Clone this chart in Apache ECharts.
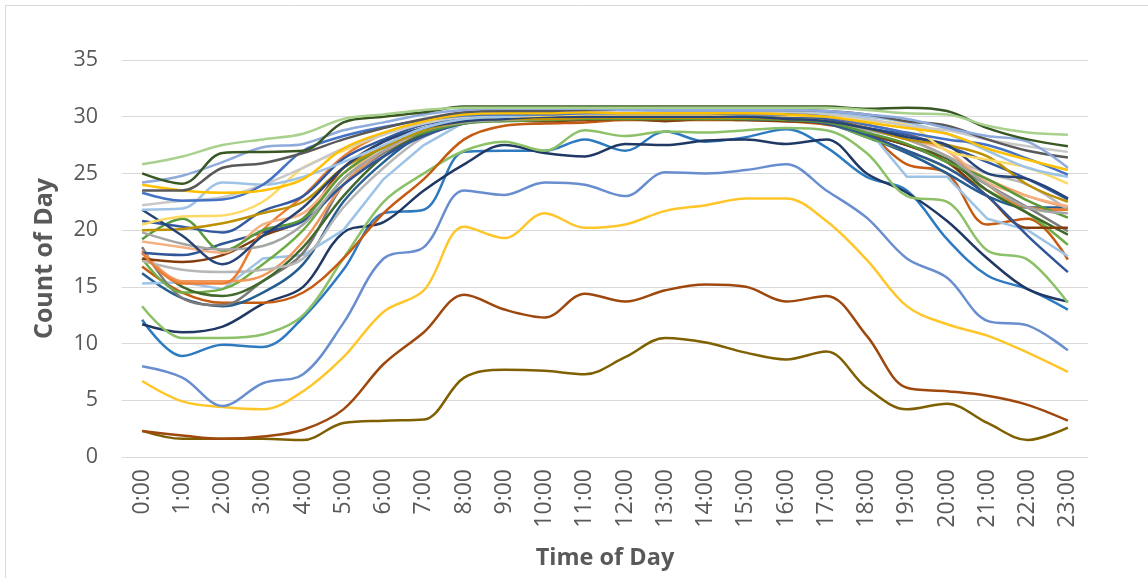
<!DOCTYPE html>
<html>
<head>
<meta charset="utf-8">
<title>Count of Day by Time of Day</title>
<script src="https://cdn.jsdelivr.net/npm/echarts@6/dist/echarts.min.js"></script>
<style>
  html, body { margin: 0; padding: 0; background: #ffffff; }
  #chart { width: 1148px; height: 578px; }
</style>
</head>
<body>
<div id="chart"></div>
<script>
// Hour-of-day categories
const hours = ['0:00','1:00','2:00','3:00','4:00','5:00','6:00','7:00','8:00','9:00','10:00','11:00',
               '12:00','13:00','14:00','15:00','16:00','17:00','18:00','19:00','20:00','21:00','22:00','23:00'];

// Y axis range
const yMin = 0;
const yMax = 35;
const yStep = 5;

// One series per day: count at each hour
const dayA = [25.8,26.5,27.5,28.0,28.5,29.8,30.2,30.6,30.8,30.8,30.8,30.8,30.8,30.8,30.8,30.8,30.8,30.8,30.6,30.3,30.2,29.2,28.6,28.4];
const dayB = [25.0,24.1,26.8,26.9,27.0,29.5,30.0,30.4,30.9,30.9,30.9,30.9,30.9,30.9,30.9,30.9,30.9,30.9,30.7,30.8,30.5,29.0,28.0,27.4];
const dayC = [24.2,24.8,26.0,27.3,27.6,28.8,29.5,30.2,30.6,30.7,30.7,30.7,30.6,30.6,30.6,30.6,30.6,30.5,30.2,29.8,29.0,28.3,27.8,25.5];
const dayD = [23.5,23.5,25.5,25.9,26.8,28.0,29.0,29.8,30.4,30.5,30.5,30.6,30.6,30.6,30.6,30.6,30.6,30.5,30.2,29.6,29.2,28.0,27.0,26.4];
const dayE = [24.0,23.5,23.3,23.5,24.5,27.2,28.6,29.6,30.2,30.3,30.3,30.4,30.3,30.3,30.3,30.3,30.2,30.0,29.5,29.0,28.5,27.2,26.2,25.3];
const dayF = [23.3,22.6,22.7,24.0,27.0,28.3,29.1,29.7,30.1,30.2,30.2,30.3,30.3,30.3,30.3,30.2,30.2,30.0,29.3,28.6,28.0,27.5,26.3,24.9];
const dayG = [22.2,22.6,22.9,24.0,25.5,27.2,28.4,29.4,30.0,30.2,30.3,30.3,30.3,30.3,30.3,30.3,30.3,30.2,29.8,29.2,28.8,28.0,27.4,26.9];
const dayH = [21.8,21.9,24.2,24.0,24.7,26.0,27.5,29.0,29.8,30.0,30.2,30.3,30.3,30.4,30.4,30.4,30.4,30.3,30.0,29.5,28.5,27.0,25.5,24.7];
const dayI = [20.5,21.2,21.3,22.5,25.5,27.0,28.5,29.5,30.0,30.0,30.1,30.2,30.2,30.2,30.2,30.2,30.1,30.0,29.6,29.3,27.0,26.2,25.5,24.1];
const dayJ = [21.8,19.5,17.0,19.5,22.0,25.5,27.8,29.0,29.6,29.8,30.0,30.0,30.0,30.0,30.0,30.0,29.8,29.6,29.0,28.2,27.5,25.0,24.5,22.8];
const dayK = [20.0,20.1,20.6,21.5,22.5,25.5,27.3,28.8,29.6,29.8,29.8,29.9,29.9,29.9,29.9,29.9,29.8,29.6,29.0,28.0,27.5,26.5,24.0,22.5];
const dayL = [20.8,20.3,19.8,21.7,23.0,26.3,28.0,29.3,29.8,30.0,30.1,30.2,30.2,30.2,30.1,30.1,30.0,29.8,29.0,28.4,27.4,26.0,24.5,22.7];
const dayM = [19.8,18.8,18.3,18.6,20.5,24.5,27.0,28.8,29.5,29.7,29.8,29.9,29.9,30.0,30.0,30.0,29.9,29.7,28.9,28.0,26.5,24.0,22.0,21.5];
const dayN = [19.2,21.0,18.2,20.0,21.0,25.0,27.3,28.6,29.4,29.6,29.7,29.8,29.8,29.8,29.8,29.8,29.7,29.5,28.6,27.6,26.0,24.5,22.6,21.1];
const dayO = [19.0,18.5,18.0,20.5,21.5,25.0,27.0,28.7,29.5,29.8,29.9,30.0,30.0,30.0,30.0,30.0,29.9,29.7,29.0,28.0,27.0,24.2,23.0,22.1];
const dayP = [18.0,15.3,15.3,20.0,23.0,26.5,28.5,29.5,30.0,30.1,30.1,30.2,30.2,30.1,30.1,30.1,30.0,29.8,29.3,28.5,27.0,24.0,22.0,21.8];
const dayQ = [18.0,17.8,18.8,19.8,20.8,24.0,26.5,28.3,29.4,29.7,29.8,29.9,29.9,29.9,29.9,29.8,29.7,29.4,28.4,27.0,25.5,23.0,19.5,16.3];
const dayR = [17.5,17.2,17.8,19.5,21.0,25.5,27.8,29.0,29.7,29.7,29.6,29.7,29.8,29.6,29.8,29.7,29.6,29.4,28.5,27.5,26.0,23.0,20.2,20.2];
const dayS = [17.3,16.5,16.3,16.5,17.5,22.0,25.5,28.2,29.4,29.7,29.8,29.9,29.9,29.9,29.9,29.8,29.8,29.5,28.8,28.0,26.5,25.0,24.0,21.8];
const dayT = [15.3,15.4,14.8,17.5,17.8,20.0,24.5,27.5,29.5,29.7,29.8,30.0,30.0,30.0,30.0,29.9,29.8,29.5,29.0,24.7,24.7,21.0,20.0,17.7];
const dayU = [16.8,14.5,13.6,13.6,14.5,17.5,21.5,24.5,28.0,29.2,29.4,29.5,29.7,29.7,29.7,29.7,29.6,29.3,28.5,25.8,25.0,20.5,21.0,17.4];
const dayV = [18.0,15.0,14.2,15.5,18.5,23.0,26.5,28.5,29.5,29.8,29.9,30.0,30.0,30.0,30.0,30.0,29.9,29.6,28.5,27.5,26.3,23.5,21.5,19.6];
const dayW = [17.5,14.5,14.8,17.0,20.0,24.5,27.0,28.8,29.6,29.8,29.9,30.0,30.0,30.0,30.0,29.9,29.8,29.5,28.2,27.0,25.5,23.5,21.5,18.7];
const dayX = [18.5,14.0,13.4,15.5,18.0,24.0,26.8,28.7,29.5,29.7,29.8,29.8,29.9,29.9,29.9,29.8,29.7,29.4,28.4,27.5,26.0,24.0,22.0,19.9];
const dayY = [16.2,14.0,13.3,14.5,17.0,22.5,26.0,28.5,29.5,29.7,29.8,29.9,29.9,29.9,29.9,29.8,29.7,29.4,28.2,26.8,25.0,23.0,22.0,22.0];
const dayZ = [18.2,15.5,15.5,16.0,19.0,24.0,27.0,28.8,29.7,29.9,30.0,30.0,30.0,30.0,30.0,30.0,29.9,29.6,29.0,28.0,26.5,24.5,23.0,22.0];
const dayLowGreen = [13.3,10.5,10.5,10.8,12.5,17.5,22.5,25.0,27.0,27.8,27.0,28.8,28.3,28.7,28.6,28.8,29.0,28.8,26.8,23.0,22.5,18.2,17.4,13.6];
const dayLowNavy  = [11.7,11.0,11.5,13.5,15.0,19.8,20.7,23.5,25.8,27.5,26.8,26.5,27.6,27.5,27.9,28.0,27.6,28.0,25.0,23.3,20.8,17.5,14.8,13.7];
const dayLowBlue  = [12.1,8.9,9.9,9.7,12.3,16.5,21.5,21.8,26.9,27.0,27.0,28.0,27.0,28.7,27.8,28.2,28.9,27.3,24.7,23.5,19.2,16.0,14.8,13.0];
const dayLowPeri  = [8.0,7.0,4.5,6.5,7.3,11.8,17.5,18.5,23.5,23.1,24.2,24.0,23.0,25.1,25.0,25.3,25.8,23.5,21.1,17.5,15.8,12.0,11.6,9.4];
const dayLowGold  = [6.7,4.9,4.4,4.2,5.8,8.8,12.8,14.7,20.3,19.3,21.5,20.2,20.5,21.7,22.2,22.8,22.8,20.8,17.4,13.3,11.7,10.7,9.2,7.5];
const dayLowRust  = [2.3,1.9,1.6,1.8,2.4,4.2,8.2,11.0,14.3,13.0,12.3,14.4,13.7,14.7,15.2,15.0,13.7,14.2,10.7,6.1,5.8,5.4,4.6,3.2];
const dayLowOlive = [2.3,1.6,1.6,1.6,1.5,3.0,3.2,3.3,7.0,7.7,7.6,7.3,8.8,10.5,10.1,9.2,8.6,9.3,6.1,4.2,4.7,3.0,1.5,2.6];

// Series list: [values, line colour, smoothed]
const seriesDefs = [
  [dayLowOlive, '#7f6000', true],
  [dayLowRust,  '#9e480e', true],
  [dayLowGold,  '#ffc62a', true],
  [dayLowPeri,  '#698ed0', true],
  [dayLowBlue,  '#2e7ac0', true],
  [dayLowNavy,  '#203864', true],
  [dayLowGreen, '#8cc168', true],
  [dayU, '#c55a11', true],
  [dayY, '#255e91', true],
  [dayT, '#9dc3e6', false],
  [dayX, '#7b7b7b', true],
  [dayW, '#70ad47', true],
  [dayV, '#43682b', true],
  [dayZ, '#f1975a', true],
  [dayS, '#b7b7b7', true],
  [dayR, '#843c0c', true],
  [dayQ, '#2f5597', true],
  [dayP, '#ed7d31', true],
  [dayO, '#f4b183', true],
  [dayN, '#5a9a3a', true],
  [dayM, '#a5a5a5', true],
  [dayL, '#335aa1', true],
  [dayK, '#bf9000', true],
  [dayJ, '#264478', true],
  [dayI, '#ffd966', true],
  [dayH, '#9dc3e6', true],
  [dayG, '#c9c9c9', true],
  [dayF, '#4472c4', true],
  [dayE, '#ffc000', true],
  [dayD, '#595959', true],
  [dayC, '#8faadc', true],
  [dayB, '#385723', true],
  [dayA, '#a9d18e', true]
];

const chart = echarts.init(document.getElementById('chart'), null, { renderer: 'canvas' });

const option = {
  backgroundColor: '#ffffff',
  animation: false,
  graphic: [{
    type: 'rect',
    shape: { x: 5.5, y: 5.5, width: 1160, height: 620 },
    style: { fill: 'none', stroke: '#d9d9d9', lineWidth: 1 },
    silent: true,
    z: -10
  }],
  grid: { left: 122, right: 60, top: 60, bottom: 121, containLabel: false },
  xAxis: {
    type: 'category',
    data: hours,
    boundaryGap: true,
    name: 'Time of Day',
    nameLocation: 'middle',
    nameGap: 89,
    nameTextStyle: { fontFamily: 'Open Sans', fontWeight: 'bold', fontSize: 23.5, color: '#595959' },
    axisLine: { show: true, lineStyle: { color: '#d9d9d9', width: 1 } },
    axisTick: { show: false },
    axisLabel: {
      rotate: 90,
      margin: 12,
      interval: 0,
      fontFamily: 'Open Sans',
      fontSize: 23,
      color: '#595959'
    },
    splitLine: { show: false }
  },
  yAxis: {
    type: 'value',
    min: yMin,
    max: yMax,
    interval: yStep,
    name: 'Count of Day',
    nameLocation: 'middle',
    nameGap: 65,
    nameTextStyle: { fontFamily: 'Open Sans', fontWeight: 'bold', fontSize: 25, color: '#595959' },
    axisLine: { show: false },
    axisTick: { show: false },
    axisLabel: { margin: 24, fontFamily: 'Open Sans', fontSize: 21.5, color: '#595959' },
    splitLine: { show: true, lineStyle: { color: '#d9d9d9', width: 1 } }
  },
  series: seriesDefs.map(function (d, i) {
    return {
      name: 'Day ' + (i + 1),
      type: 'line',
      data: d[0],
      smooth: d[2] ? 0.35 : false,
      symbol: 'none',
      lineStyle: { color: d[1], width: 2.5 },
      itemStyle: { color: d[1] },
      emphasis: { disabled: true }
    };
  })
};

chart.setOption(option);
</script>
</body>
</html>
